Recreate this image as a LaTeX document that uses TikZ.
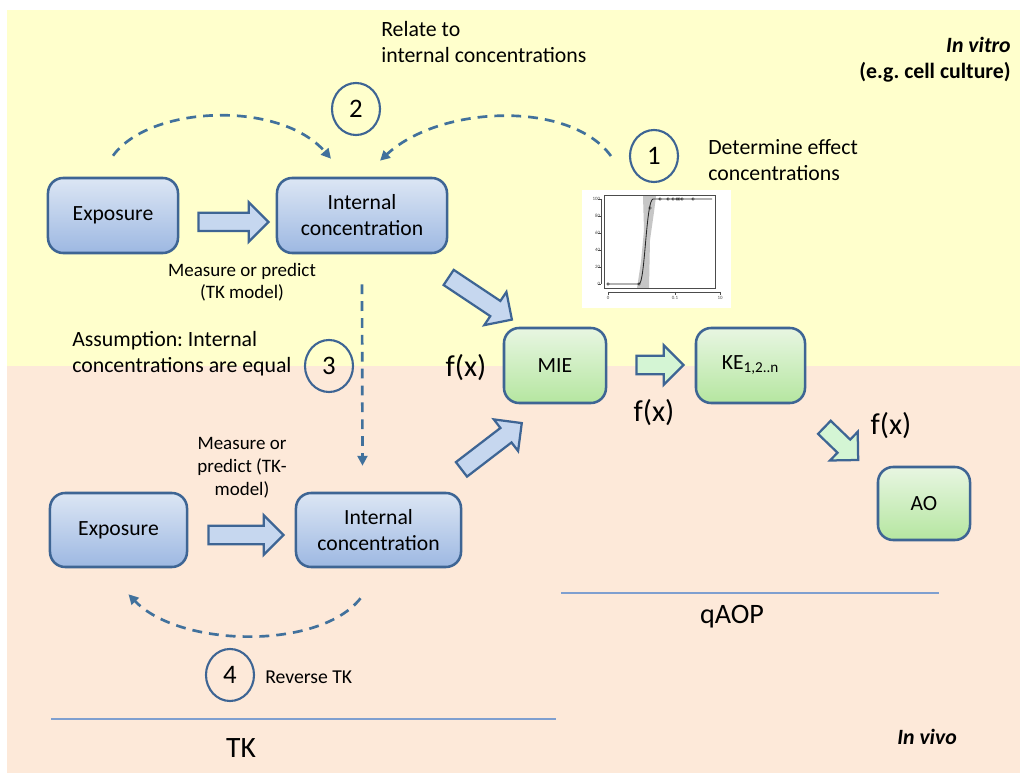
\documentclass[tikz,border=0pt]{standalone}
\usepackage{fontspec}
\setmainfont{Carlito}
\usepackage{tikz}
\usepackage{xcolor}
\usetikzlibrary{shapes}
\usetikzlibrary{arrows.meta}
\frenchspacing

\definecolor{vitrobg}{HTML}{FFFFCC}
\definecolor{vivobg}{HTML}{FDE9D9}
\definecolor{boxedge}{HTML}{3E6594}
\definecolor{bluetop}{HTML}{DCE6F4}
\definecolor{bluebot}{HTML}{9DB8E2}
\definecolor{greentop}{HTML}{E8F6E2}
\definecolor{greenbot}{HTML}{B5E6A0}
\definecolor{bluefill}{HTML}{C6D7EF}
\definecolor{greenfill}{HTML}{D4F5D4}
\definecolor{dashblue}{HTML}{41719C}
\definecolor{rulecol}{HTML}{7F9FCF}
\newcommand\fsz[2]{\fontsize{#1}{#2}\selectfont}

\tikzset{
  bluebox/.style={draw=boxedge, line width=1.8pt, rounded corners=0.38cm,
    top color=bluetop, bottom color=bluebot, align=center, font=\fsz{15.4}{18.5}},
  greenbox/.style={bluebox, top color=greentop, bottom color=greenbot},
  blockarrow/.style={single arrow, draw=boxedge, line width=1.6pt, fill=bluefill,
    single arrow head extend=0.27cm, minimum width=0.95cm,
    inner xsep=0pt, inner ysep=0.2cm},
  greenarrow/.style={blockarrow, fill=greenfill},
  numcircle/.style={ellipse, draw=boxedge, line width=1.5pt, minimum width=1.2cm,
    minimum height=1.3cm, inner sep=0pt, font=\fsz{19}{22}},
  dasharrow/.style={draw=dashblue, line width=1.9pt, dash pattern=on 7pt off 5pt,
    -{Triangle[length=7pt,width=7pt]}},
  note/.style={inner sep=0pt, align=left, font=\fsz{15.5}{18.5}},
  smallnote/.style={inner sep=0pt, align=center, font=\fsz{13.5}{15.8}},
  fxnote/.style={inner sep=0pt, font=\fsz{21.5}{25}},
  rule/.style={draw=rulecol, line width=1pt}
}

\begin{document}
\begin{tikzpicture}[x=0.025cm, y=-0.025cm]
\useasboundingbox (0,0) rectangle (1020,773);
\fill [vitrobg] (7,10) rectangle (1020,366);
\fill [vivobg] (7,366) rectangle (1020,773);

\fill [white] (582,190) rectangle (731,308);
\fill [gray!45] (643,196) -- (656,196) -- (654,212) -- (650,240) -- (649,288)
      -- (637,288) -- (641,262) -- (644,230) -- cycle;
\draw [black!70, line width=0.3pt] (604,195) rectangle (715,288);
\draw [black!70, line width=0.3pt] (601,199) -- (601,284);
\draw [black!70, line width=0.3pt] (608,292) -- (720,292);
\foreach \yy/\lab in {199/100,216/80,233/60,250/40,267/20,284/0}
  \draw [black!70, line width=0.3pt] (598,\yy) -- (601,\yy)
        node [left, inner sep=0.5pt, font=\fsz{3.5}{4}] {\lab};
\foreach \xx/\lab in {608/0,675/0.1,720/10}
  \draw [black!70, line width=0.3pt] (\xx,292) -- (\xx,295)
        node [below, inner sep=1pt, font=\fsz{3.5}{4}] {\lab};
\draw [black!85, line width=0.6pt] (608,284) -- (639,284)
      .. controls (645,284) and (646,200) .. (653,199) -- (712,199);
\foreach \px/\py in {608/284,639/284,650/208,660/199,668/199,673/199,677/199,679/199,682/199,693/199}
  \draw [black!85, line width=0.3pt] (\px,\py) circle (1.3);

\node [bluebox, minimum width=3.25cm, minimum height=1.875cm]
       (expo1) at (113,215.5) {Exposure};
\node [bluebox, minimum width=4.25cm, minimum height=1.875cm]
       (int1) at (362,215.5) {Internal\\concentration};
\node [bluebox, minimum width=3.425cm, minimum height=1.85cm]
       (expo2) at (118.5,530) {Exposure};
\node [bluebox, minimum width=4.125cm, minimum height=1.85cm]
       (int2) at (378.5,530) {Internal\\concentration};
\node [greenbox, minimum width=2.55cm, minimum height=1.875cm]
       (mie) at (555,365.5) {MIE};
\node [greenbox, minimum width=2.725cm, minimum height=1.875cm]
       (ke) at (750.5,365.5) {KE\textsubscript{1,2..n}};
\node [greenbox, minimum width=2.3cm, minimum height=1.825cm]
       (ao) at (924,503.5) {AO};

\node [blockarrow, minimum height=1.75cm] (a1) at (229,222) {};
\node [blockarrow, minimum height=1.9cm, rotate=-33.7] (a2) at (476.5,296) {};
\node [blockarrow, minimum height=1.9cm, rotate=37.5] (a3) at (488,449) {};
\node [blockarrow, minimum height=1.875cm] (a4) at (241.5,535) {};
\node [greenarrow, minimum height=1.175cm] (a5) at (655.5,365) {};
\node [greenarrow, minimum height=1.175cm, rotate=-44] (a6) at (838,440.5) {};

\node [numcircle] (c1) at (654,156) {1};
\node [numcircle] (c2) at (356,109) {2};
\node [numcircle] (c3) at (329,366) {3};
\node [numcircle] (c4) at (230,675) {4};

\draw [dasharrow] ([yshift=0.525cm]expo1.north) .. controls (150,105) and (280,100)
      .. ([xshift=-0.775cm, yshift=0.45cm]int1.north);
\draw [dasharrow] ([xshift=-0.45cm]c1.west) .. controls (570,100) and (440,105)
      .. ([xshift=0.45cm, yshift=0.4cm]int1.north);
\draw [dasharrow] ([yshift=-0.75cm]int1.south)
      -- ([xshift=-0.4cm, yshift=0.65cm]int2.north);
\draw [dasharrow] ([xshift=-0.45cm, yshift=-0.75cm]int2.south) .. controls (320,650) and (180,648)
      .. ([xshift=0.25cm, yshift=-0.65cm]expo2.south);

\node [note, anchor=west] (relate) at (381,42.5) {Relate to\\internal concentrations};
\node [note, anchor=east, align=right, font=\bfseries\fsz{15.5}{18.5}]
       (vitro) at (1011,60) {\textit{In vitro}\\(e.g. cell culture)};
\node [note, anchor=west] (determine) at (708,160) {Determine effect\\concentrations};
\node [smallnote] (measure1) at (242,282) {Measure or predict\\(TK model)};
\node [note, anchor=west] (assume) at (72,354) {Assumption: Internal\\concentrations are equal};
\node [smallnote, font=\fsz{13.5}{16.3}] (measure2) at (242,468) {Measure or\\predict (TK-\\model)};
\node [note, anchor=west, font=\fsz{14}{17}] (reverse) at (265,677) {Reverse TK};
\node [fxnote] (fx1) at (466,368) {f(x)};
\node [fxnote] (fx2) at (654,413) {f(x)};
\node [fxnote] (fx3) at (891,426) {f(x)};

\draw [rule] (51,719) -- (556,719);
\draw [rule] (561,593) -- (939,593);
\node [inner sep=0pt, font=\fsz{21}{25}] (tk) at (241,748) {TK};
\node [inner sep=0pt, font=\fsz{20}{24}] (qaop) at (732,617) {qAOP};
\node [inner sep=0pt, anchor=east, font=\bfseries\itshape\fsz{15.5}{18.5}]
       (vivo) at (957,737) {In vivo};
\end{tikzpicture}
\end{document}
